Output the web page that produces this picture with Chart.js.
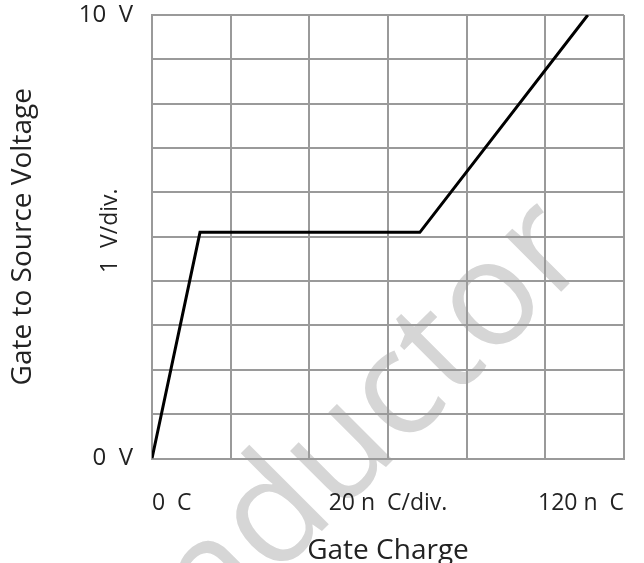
<!DOCTYPE html>
<html>
<head>
<meta charset="utf-8">
<script src="https://cdn.jsdelivr.net/npm/chart.js@4/dist/chart.umd.min.js"></script>
<style>
  html, body { margin: 0; padding: 0; background: #fff; }
  #wrap { width: 644px; height: 563px; }
</style>
</head>
<body>
<div id="wrap"><canvas id="chart-qg" width="644" height="563"></canvas></div>
<script>
// curva de carga de compuerta (nC, V)
const cargaQg = [0, 12.2, 68.1, 110.8]
const voltajeVgs = [0, 5.1, 5.1, 10]

const etiquetasX = { 0: '0  C', 60: '20 n  C/div.', 120: '120 n  C' }
const etiquetasY = { 0: '0  V', 10: '10  V' }
const escalaY = '1  V/div.'
const marcaAgua = 'Semiconductor'

const fuente = '"Open Sans", "Noto Sans", sans-serif'
const gris = '#9a9a9a'

const pluginTextos = {
  id: 'textos',
  beforeDraw(chart) {
    const c = chart.ctx
    c.save()
    c.fillStyle = '#d6d6d6'
    c.font = '148px ' + fuente
    c.textAlign = 'right'
    c.textBaseline = 'alphabetic'
    c.translate(595, 258)
    c.rotate(-45 * Math.PI / 180)
    c.fillText(marcaAgua, 0, 0)
    c.restore()
  },
  afterDraw(chart) {
    const c = chart.ctx
    const a = chart.chartArea
    c.save()
    c.fillStyle = '#222'
    c.font = '23px ' + fuente
    c.textAlign = 'center'
    c.textBaseline = 'middle'
    c.translate(110, (a.top + a.bottom) / 2 - 6)
    c.rotate(-Math.PI / 2)
    c.fillText(escalaY, 0, 0)
    c.restore()
  }
}

const ctx = document.getElementById('chart-qg').getContext('2d')
new Chart(ctx, {
  type: 'line',
  data: {
    datasets: [{
      data: cargaQg.map((q, i) => ({ x: q, y: voltajeVgs[i] })),
      borderColor: '#000',
      borderWidth: 3,
      pointRadius: 0,
      tension: 0,
      fill: false
    }]
  },
  options: {
    responsive: false,
    animation: false,
    layout: { padding: { top: 15, right: 20, left: 0, bottom: 0 } },
    plugins: { legend: { display: false }, tooltip: { enabled: false } },
    scales: {
      x: {
        type: 'linear',
        min: 0,
        max: 120,
        ticks: {
          stepSize: 20,
          align: 'inner',
          padding: 31,
          color: '#222',
          font: { family: fuente, size: 23 },
          maxRotation: 0,
          autoSkip: false,
          callback: v => etiquetasX[v] || ''
        },
        grid: { color: gris, lineWidth: 2, drawTicks: false },
        border: { color: gris, width: 2 },
        title: {
          display: true,
          text: 'Gate Charge',
          color: '#222',
          font: { family: fuente, size: 28, lineHeight: 0.85 },
          padding: 0
        },
        afterFit: s => { s.height = 104.5; s.paddingLeft = 0; s.paddingRight = 0 }
      },
      y: {
        min: 0,
        max: 10,
        ticks: {
          stepSize: 1,
          padding: 19,
          color: '#222',
          font: { family: fuente, size: 24 },
          autoSkip: false,
          callback: v => etiquetasY[v] || ''
        },
        grid: { color: gris, lineWidth: 2, drawTicks: false },
        border: { color: gris, width: 2 },
        title: {
          display: true,
          text: 'Gate to Source Voltage',
          color: '#222',
          font: { family: fuente, size: 28 },
          padding: { top: 6, bottom: 0 }
        },
        afterFit: s => { s.width = 152; s.paddingTop = 0; s.paddingBottom = 0 }
      }
    }
  },
  plugins: [pluginTextos]
})
</script>
</body>
</html>
